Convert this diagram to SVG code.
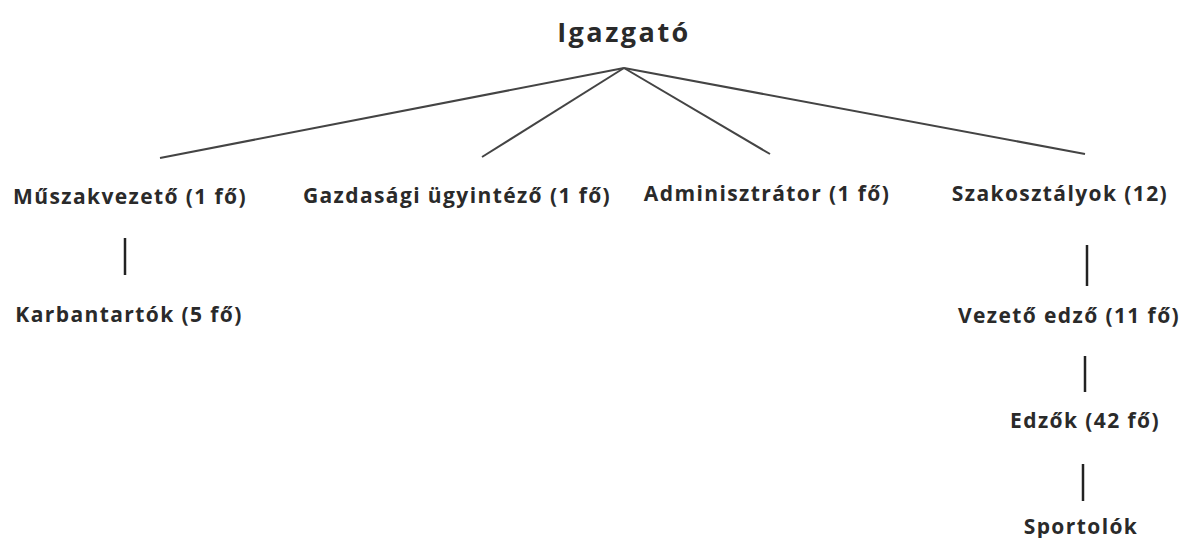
<svg xmlns="http://www.w3.org/2000/svg" width="1204" height="538" viewBox="0 0 1204 538">
<style>
.t{font-family:"Open Sans","Noto Sans","DejaVu Sans",sans-serif;font-weight:bold;fill:#2a2a2a;text-anchor:middle;font-size:21px;letter-spacing:1.4px}
.title{font-size:27px;letter-spacing:2.5px}
.c{stroke:#444;stroke-width:2;fill:none}
.v{stroke:#222;stroke-width:2.5;fill:none}
</style>
<rect width="1204" height="538" fill="#fff"/>
<g id="connectors">
<line class="c" x1="624" y1="68" x2="160" y2="158"/>
<line class="c" x1="624" y1="68" x2="482" y2="157"/>
<line class="c" x1="624" y1="68" x2="770" y2="154"/>
<line class="c" x1="624" y1="68" x2="1085" y2="154"/>
<line class="v" x1="125" y1="238" x2="125" y2="275"/>
<line class="v" x1="1087" y1="245" x2="1087" y2="286"/>
<line class="v" x1="1085" y1="356" x2="1085" y2="392"/>
<line class="v" x1="1083" y1="464" x2="1083" y2="501"/>
</g>
<g id="igazgato"><text class="t title" x="624" y="42">Igazgató</text></g>
<g id="muszakvezeto"><text class="t" x="130" y="204">Műszakvezető (1 fő)</text></g>
<g id="gazdasagi"><text class="t" x="457" y="203">Gazdasági ügyintéző (1 fő)</text></g>
<g id="adminisztrator"><text class="t" x="767" y="201">Adminisztrátor (1 fő)</text></g>
<g id="szakosztalyok"><text class="t" x="1060" y="201">Szakosztályok (12)</text></g>
<g id="karbantartok"><text class="t" x="129" y="322">Karbantartók (5 fő)</text></g>
<g id="vezeto-edzo"><text class="t" x="1069" y="323">Vezető edző (11 fő)</text></g>
<g id="edzok"><text class="t" x="1085" y="428">Edzők (42 fő)</text></g>
<g id="sportolok"><text class="t" x="1081" y="534">Sportolók</text></g>
</svg>
